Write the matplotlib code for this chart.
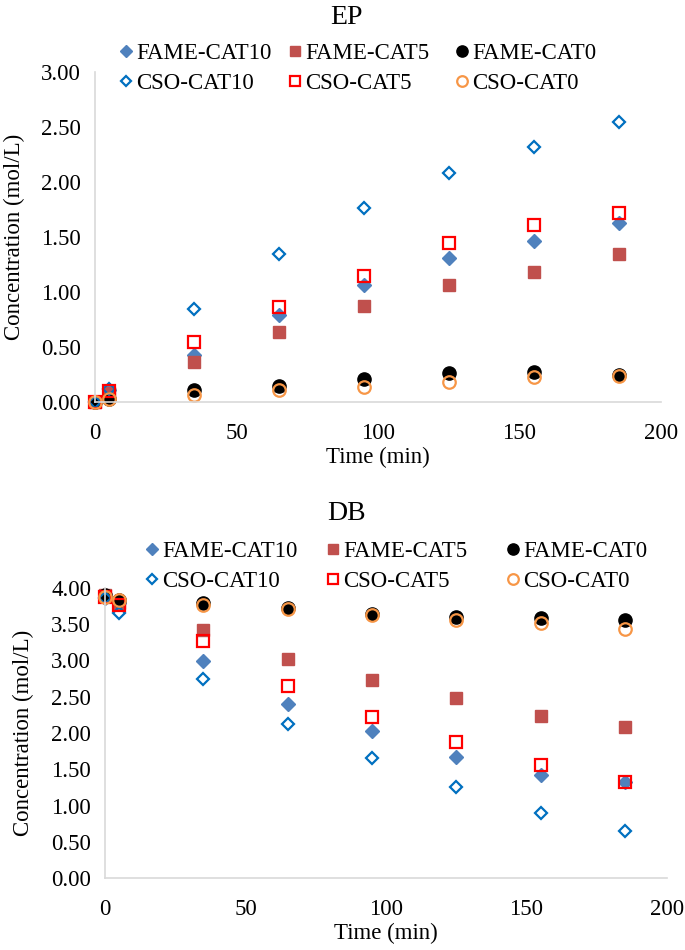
import matplotlib
matplotlib.use("Agg")
import matplotlib.pyplot as plt

time = [0, 5, 35, 65, 95, 125, 155, 185]
series_names = ["FAME-CAT10", "FAME-CAT5", "FAME-CAT0", "CSO-CAT10", "CSO-CAT5", "CSO-CAT0"]

ep_fame_cat10 = [0.00, 0.11, 0.43, 0.79, 1.06, 1.31, 1.46, 1.63]
ep_fame_cat5 = [0.00, 0.08, 0.36, 0.64, 0.87, 1.06, 1.18, 1.35]
ep_fame_cat0 = [0.00, 0.03, 0.11, 0.15, 0.21, 0.26, 0.27, 0.25]
ep_cso_cat10 = [0.00, 0.12, 0.85, 1.35, 1.76, 2.08, 2.32, 2.55]
ep_cso_cat5 = [0.00, 0.10, 0.55, 0.86, 1.15, 1.45, 1.61, 1.72]
ep_cso_cat0 = [0.00, 0.03, 0.06, 0.11, 0.14, 0.18, 0.23, 0.24]

db_fame_cat10 = [3.86, 3.80, 2.99, 2.40, 2.03, 1.67, 1.42, 1.32]
db_fame_cat5 = [3.90, 3.79, 3.42, 3.02, 2.73, 2.48, 2.23, 2.08]
db_fame_cat0 = [3.90, 3.83, 3.79, 3.72, 3.64, 3.60, 3.59, 3.56]
db_cso_cat10 = [3.86, 3.65, 2.74, 2.12, 1.65, 1.26, 0.90, 0.65]
db_cso_cat5 = [3.88, 3.77, 3.27, 2.65, 2.22, 1.88, 1.56, 1.32]
db_cso_cat0 = [3.88, 3.83, 3.77, 3.71, 3.63, 3.56, 3.52, 3.43]

plt.rcParams['font.family'] = ['Liberation Serif', 'DejaVu Serif']

styles = [
    dict(marker='D', ms=7, mfc='#4F81BD', mec='#4F81BD', mew=1.0),
    dict(marker='s', ms=9, mfc='#C0504D', mec='#C0504D', mew=1.0),
    dict(marker='o', ms=9.5, mfc='black', mec='black', mew=1.0),
    dict(marker='D', ms=6.5, mfc='none', mec='#0070C0', mew=1.6),
    dict(marker='s', ms=9, mfc='none', mec='#FF0000', mew=1.6),
    dict(marker='o', ms=9, mfc='none', mec='#F79646', mew=1.6),
]

FS = 16.5
fig = plt.figure(figsize=(6.85, 9.5), dpi=100)
W, H = 685.0, 950.0


def make_axes(rect_px, title, ydata, ymax, title_xy, leg_y, leg_x, ylab_x):
    l, t, r, b = rect_px
    ax = fig.add_axes([l / W, 1 - b / H, (r - l) / W, (b - t) / H])
    handles = []
    for name, ys, st in zip(series_names, ydata, styles):
        h, = ax.plot(time, ys, linestyle='none', label=name, clip_on=False, **st)
        handles.append(h)
    ax.set_xlim(0, 200)
    ax.set_ylim(0, ymax)
    ax.set_xticks([0, 50, 100, 150, 200])
    yt = [i * 0.5 for i in range(int(ymax / 0.5) + 1)]
    ax.set_yticks(yt)
    ax.set_yticklabels([f"{v:.2f}" for v in yt])
    ax.tick_params(axis='y', length=0, labelsize=FS, pad=10)
    ax.tick_params(axis='x', length=0, labelsize=FS, pad=15)
    for s in ['top', 'right']:
        ax.spines[s].set_visible(False)
    for s in ['left', 'bottom']:
        ax.spines[s].set_color('#D9D9D9')
        ax.spines[s].set_linewidth(1.2)
    ax.set_xlabel("Time (min)", fontsize=FS, labelpad=2)
    ax.set_ylabel("Concentration (mol/L)", fontsize=FS)
    ax.yaxis.set_label_coords(ylab_x / W, 1 - ((t + b) / 2) / H, transform=fig.transFigure)
    ax.patch.set_alpha(0)
    fig.text(title_xy[0] / W, 1 - title_xy[1] / H, title, fontsize=20,
             ha='center', va='center')
    hl = 0.6
    hpx = hl * FS * 100 / 72.0
    for c in range(3):
        idx = [c, c + 3]
        fig.legend([handles[i] for i in idx], [series_names[i] for i in idx],
                   ncol=1, loc='center left',
                   bbox_to_anchor=((leg_x[c] - hpx / 2) / W, 1 - leg_y / H),
                   frameon=False, fontsize=FS, handlelength=hl, handletextpad=0.15,
                   labelspacing=0.42, markerscale=0.85, borderpad=0, borderaxespad=0)
    return ax


ax1 = make_axes((95, 72, 661, 402), "EP",
                [ep_fame_cat10, ep_fame_cat5, ep_fame_cat0, ep_cso_cat10, ep_cso_cat5, ep_cso_cat0],
                3.0, (346, 17), 68.5, (126, 295, 462), 25)
ax2 = make_axes((105, 588, 667, 878), "DB",
                [db_fame_cat10, db_fame_cat5, db_fame_cat0, db_cso_cat10, db_cso_cat5, db_cso_cat0],
                4.0, (347, 513), 566.5, (152, 333, 513), 34)

fig.savefig("out.png", dpi=100)
